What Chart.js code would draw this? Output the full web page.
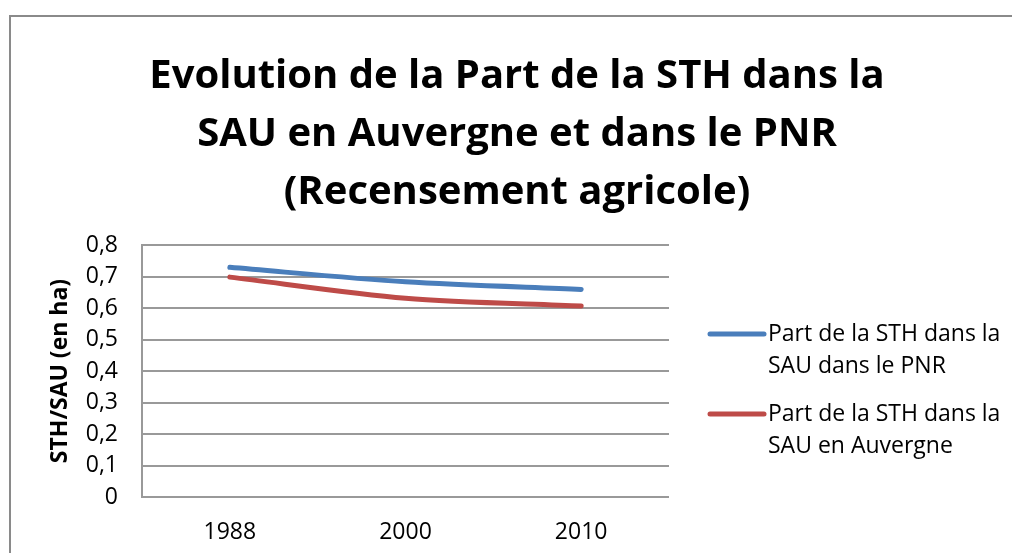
<!DOCTYPE html>
<html>
<head>
<meta charset="utf-8">
<script src="https://cdn.jsdelivr.net/npm/chart.js@4/dist/chart.umd.min.js"></script>
<style>
  html, body { margin: 0; padding: 0; background: #fff; }
  #wrap { width: 1012px; height: 553px; position: relative; }
</style>
</head>
<body>
<div id="wrap"><canvas id="chart" width="1012" height="553"></canvas></div>
<script>
// data
const years = ['1988', '2000', '2010'];
const partPNR = [0.729, 0.683, 0.659];
const partAuvergne = [0.698, 0.631, 0.606];
const yTickLabels = ['0', '0,1', '0,2', '0,3', '0,4', '0,5', '0,6', '0,7', '0,8'];
const titleLines = ['Evolution de la Part de la STH dans la', 'SAU en Auvergne et dans le PNR', '(Recensement agricole)'];
const legendPNR = ['Part de la STH dans la', 'SAU dans le PNR'];
const legendAuvergne = ['Part de la STH dans la', 'SAU en Auvergne'];

const FONT = '"Open Sans", sans-serif';
const GRID = '#999999';

// white page + frame border, title and wrapped legend
const decor = {
  id: 'decor',
  beforeDraw(chart) {
    const ctx = chart.ctx;
    ctx.save();
    ctx.fillStyle = '#fff';
    ctx.fillRect(0, 0, chart.width, chart.height);
    ctx.strokeStyle = '#8a8a8a';
    ctx.lineWidth = 2;
    ctx.strokeRect(10, 16, chart.width + 20, chart.height + 20);
    ctx.restore();
  },
  afterDraw(chart) {
    const ctx = chart.ctx;
    ctx.save();
    ctx.fillStyle = '#000';
    ctx.textAlign = 'center';
    ctx.textBaseline = 'alphabetic';
    ctx.font = 'bold 40px ' + FONT;
    titleLines.forEach((t, i) => ctx.fillText(t, 517, 88 + i * 58));

    ctx.font = '23px ' + FONT;
    ctx.textAlign = 'left';
    ctx.textBaseline = 'middle';
    chart.data.datasets.forEach((ds, i) => {
      const y = 334 + i * 80;
      ctx.strokeStyle = ds.borderColor;
      ctx.lineWidth = 5;
      ctx.lineCap = 'round';
      ctx.beginPath();
      ctx.moveTo(710, y);
      ctx.lineTo(764, y);
      ctx.stroke();
      ds.legendLines.forEach((l, j) => ctx.fillText(l, 768, y + j * 32));
    });
    ctx.restore();
  }
};

new Chart(document.getElementById('chart'), {
  type: 'line',
  data: {
    labels: years,
    datasets: [
      {
        label: legendPNR.join(' '),
        legendLines: legendPNR,
        data: partPNR,
        borderColor: '#4a7ebb',
        borderWidth: 5,
        borderCapStyle: 'round',
        tension: 0.3,
        pointRadius: 0,
      },
      {
        label: legendAuvergne.join(' '),
        legendLines: legendAuvergne,
        data: partAuvergne,
        borderColor: '#be4b48',
        borderWidth: 5,
        borderCapStyle: 'round',
        tension: 0.3,
        pointRadius: 0,
      },
    ],
  },
  options: {
    responsive: false,
    animation: false,
    layout: { padding: { left: 10, right: 343, top: 245, bottom: 0 } },
    plugins: {
      legend: { display: false },
      title: { display: false },
      tooltip: { enabled: false },
    },
    scales: {
      x: {
        offset: true,
        grid: { display: false, drawTicks: false },
        border: { display: false },
        ticks: { color: '#000', padding: 22, font: { family: FONT, size: 23 } },
        afterFit(scale) { scale.height = 56; },
      },
      y: {
        min: 0,
        max: 0.8,
        ticks: {
          stepSize: 0.1,
          color: '#000',
          padding: 24,
          font: { family: FONT, size: 23 },
          callback: (v, i) => yTickLabels[i],
        },
        grid: { color: GRID, lineWidth: 2, drawTicks: false },
        border: { display: true, color: GRID, width: 2 },
        title: {
          display: true,
          text: 'STH/SAU (en ha)',
          color: '#000',
          font: { family: FONT, size: 23, weight: 'bold' },
          padding: { top: 37, bottom: 0 },
        },
        afterFit(scale) { scale.width = 132; },
      },
    },
  },
  plugins: [decor],
});
</script>
</body>
</html>
